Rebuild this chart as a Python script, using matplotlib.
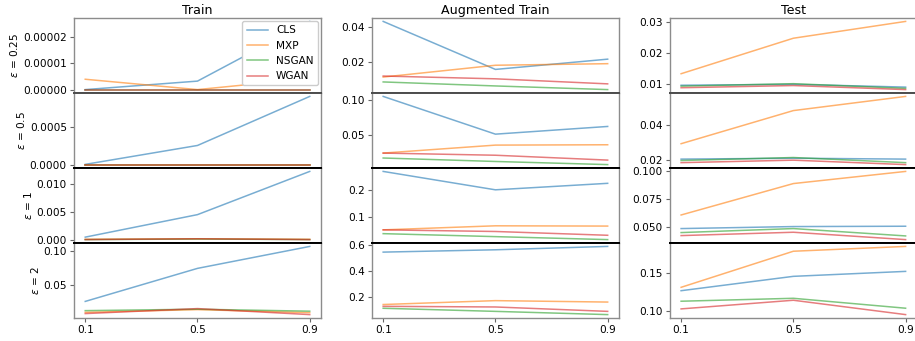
import numpy as np
import matplotlib
matplotlib.use("Agg")
import matplotlib.pyplot as plt

plt.rcParams["font.size"] = 7.6

# ============================================================
# DATA
# ============================================================
x = [0.1, 0.5, 0.9]
models = ["CLS", "MXP", "NSGAN", "WGAN"]
colors = ["tab:blue", "tab:orange", "tab:green", "tab:red"]
col_titles = ["Train", "Augmented Train", "Test"]
row_labels = [r"$\varepsilon$ = 0.25", r"$\varepsilon$ = 0.5",
              r"$\varepsilon$ = 1", r"$\varepsilon$ = 2"]

# train[row][model]
train = [
    [[0.0, 3.2e-6, 2.57e-5], [3.9e-6, 0.0, 4.2e-6], [0.0, 0.0, 0.0], [0.0, 0.0, 0.0]],
    [[0.000005, 0.000254, 0.0009], [0.000003, 0.000003, 0.000003],
     [0.000002, 0.000002, 0.000002], [0.000002, 0.000002, 0.000002]],
    [[0.00049, 0.0045, 0.0122], [0.0001, 0.0002, 0.0001],
     [0.00005, 0.00015, 0.00005], [0.00005, 0.0002, 0.00005]],
    [[0.026, 0.0743, 0.1064], [0.010, 0.014, 0.0095],
     [0.0125, 0.0146, 0.0117], [0.0082, 0.0155, 0.0067]],
]
aug_train = [
    [[0.0431, 0.0155, 0.0214], [0.0111, 0.0179, 0.0188],
     [0.0083, 0.0060, 0.0039], [0.0117, 0.0101, 0.0072]],
    [[0.1058, 0.0514, 0.0625], [0.0241, 0.0356, 0.0361],
     [0.0170, 0.0120, 0.0075], [0.0241, 0.0210, 0.0140]],
    [[0.268, 0.200, 0.224], [0.052, 0.067, 0.066],
     [0.038, 0.027, 0.016], [0.052, 0.046, 0.032]],
    [[0.546, 0.564, 0.590], [0.141, 0.171, 0.160],
     [0.112, 0.088, 0.063], [0.127, 0.122, 0.088]],
]
test = [
    [[0.0096, 0.0099, 0.0090], [0.0133, 0.0247, 0.0301],
     [0.0093, 0.0101, 0.0086], [0.0088, 0.0095, 0.0082]],
    [[0.0206, 0.0211, 0.0206], [0.0293, 0.048, 0.056],
     [0.0198, 0.0215, 0.0186], [0.0186, 0.0200, 0.0175]],
    [[0.0482, 0.0500, 0.0503], [0.0604, 0.0886, 0.0995],
     [0.0446, 0.0482, 0.0416], [0.0419, 0.0449, 0.0383]],
    [[0.1265, 0.1456, 0.1522], [0.131, 0.179, 0.1854],
     [0.1125, 0.1164, 0.1032], [0.1023, 0.1138, 0.0947]],
]
data = [train, aug_train, test]

# y tick labels per column / row
yticks = [
    [["0.00000", "0.00001", "0.00002"], ["0.0000", "0.0005"],
     ["0.000", "0.005", "0.010"], ["0.05", "0.10"]],
    [["0.02", "0.04"], ["0.05", "0.10"], ["0.1", "0.2"], ["0.2", "0.4", "0.6"]],
    [["0.01", "0.02", "0.03"], ["0.02", "0.04"],
     ["0.050", "0.075", "0.100"], ["0.10", "0.15"]],
]

# ============================================================
# FIGURE
# ============================================================
fig = plt.figure(figsize=(9.15, 3.41), dpi=100)
outer = fig.add_gridspec(4, 3, left=0.0809, right=1.002, top=0.9472, bottom=0.0674,
                         wspace=0.2065, hspace=0.0)

for c in range(3):
    ax0 = None
    for r in range(4):
        ax = fig.add_subplot(outer[r, c], sharex=ax0)
        if ax0 is None:
            ax0 = ax
        for m in range(4):
            ax.plot(x, data[c][r][m], color=colors[m], lw=1.1, alpha=0.6, label=models[m])

        labels = yticks[c][r]
        ax.set_yticks([float(t) for t in labels])
        ax.set_yticklabels(labels)
        ax.set_xticks(x)
        ax.set_xticklabels([str(v) for v in x])
        if r < 3:
            ax.tick_params(axis="x", labelbottom=False, length=0)

        for s in ax.spines.values():
            s.set_color("0.55")
            s.set_linewidth(1.0)
        if r > 0:
            ax.spines["top"].set_color("0.3" if r == 1 else "black")
            ax.spines["top"].set_linewidth(1.4)
        if r < 3:
            ax.spines["bottom"].set_color("0.3" if r == 0 else "black")
            ax.spines["bottom"].set_linewidth(1.4)
        ax.tick_params(length=2.7, width=0.8, color="0.4", pad=2.5)

        if r == 0:
            ax.set_title(col_titles[c], fontsize=9.1, pad=3)
        if c == 0:
            ax.set_ylabel(row_labels[r], labelpad=2)
        if r == 0 and c == 0:
            ax.legend(loc="upper right", fontsize=7.6, borderaxespad=0.3,
                      handlelength=2.0, framealpha=1.0)

fig.savefig("out.png", dpi=100)
